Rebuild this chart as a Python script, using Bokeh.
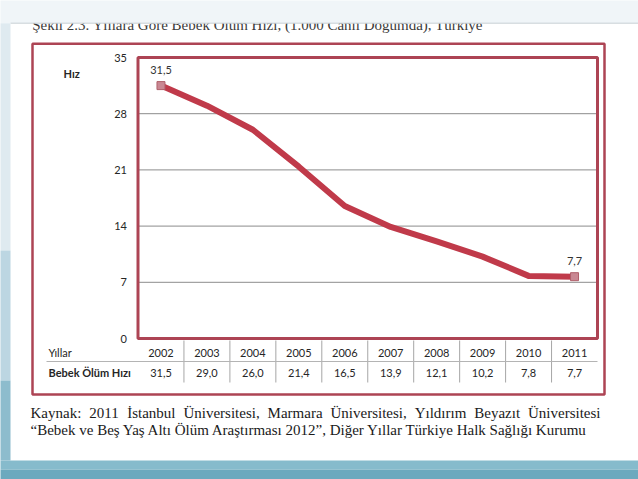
from bokeh.plotting import figure
from bokeh.models import (Range1d, FixedTicker, LinearAxis, Label, BoxAnnotation, ColumnDataSource)
from bokeh.core.properties import value
from bokeh.embed import file_html
from bokeh.resources import INLINE

# ---- data ----
years = ["2002", "2003", "2004", "2005", "2006", "2007", "2008", "2009", "2010", "2011"]
rates = [31.5, 29.0, 26.0, 21.4, 16.5, 13.9, 12.1, 10.2, 7.8, 7.7]
y_ticks = [0, 7, 14, 21, 28, 35]
rate_labels = [f"{v:.1f}".replace(".", ",") for v in rates]
title_text = "Şekil 2.3. Yıllara Göre Bebek Ölüm Hızı, (1.000 Canlı Doğumda), Türkiye"
y_label = "Hız"
row1_label = "Yıllar"
row2_label = "Bebek Ölüm Hızı"
source_lines = [
    "Kaynak: 2011 İstanbul Üniversitesi, Marmara Üniversitesi, Yıldırım Beyazıt Üniversitesi",
    "“Bebek ve Beş Yaş Altı Ölüm Araştırması 2012”, Diğer Yıllar Türkiye Halk Sağlığı Kurumu",
]

# ---- layout (pixel geometry of the plot area inside the canvas) ----
W, H = 638, 479
PL, PR, PT, PB = 137.5, 597.0, 57.0, 338.0
N = len(years)
YMAX = y_ticks[-1]
XS = (PR - PL) / N          # px per category
YS = (PB - PT) / YMAX       # px per unit
UI_FONT = "Lato"
SERIF = "Liberation Serif"
SERIF_PX = 15
RED_LINE = "#c03a4a"
FRAME_RED = "#ad4454"

# Times / Liberation Serif advance widths (1/1000 em), used to justify the first caption line
TIMES_W = {"K": 722, "a": 444, "y": 500, "n": 500, "k": 500, ":": 278, "2": 500, "0": 500,
           "1": 500, "İ": 333, "s": 389, "t": 278, "b": 500, "u": 500, "l": 278, "Ü": 722,
           "i": 278, "v": 500, "e": 444, "r": 333, ",": 250, "M": 889, "m": 778, "Y": 722,
           "ı": 278, "d": 500, "B": 667, "z": 444}


def text_w(s):
    return sum(TIMES_W.get(c, 500) for c in s) * SERIF_PX / 1000


def dx(px):
    return -0.5 + (px - PL) / XS


def dy(py):
    return (PB - py) / YS


p = figure(width=W, height=H, x_range=Range1d(dx(0), dx(W)), y_range=Range1d(dy(H), dy(0)),
           output_backend="svg", toolbar_location=None,
           x_axis_location=None, y_axis_location=None,
           min_border=0, min_border_left=0, min_border_right=0,
           min_border_top=0, min_border_bottom=0)
p.title.visible = False
p.border_fill_color = "white"
p.background_fill_color = "white"
p.outline_line_color = None
p.xgrid.visible = False
p.ygrid.visible = False

idx = list(range(N))

# ---- heading (upper part is hidden by the slide's top band) ----
p.text(x=[dx(31.7)], y=[dy(24.8)], text=[title_text], text_font=value(SERIF),
       text_font_size=f"{SERIF_PX}px", text_color="#3a3a3a", text_baseline="middle",
       text_align="left")

# ---- slide decoration ----
p.quad(left=[dx(-5)], right=[dx(W + 5)], top=[dy(-5)], bottom=[dy(22.7)],
       fill_color="#f0f5f8", line_color=None)
p.segment(x0=[dx(10)], x1=[dx(W + 5)], y0=[dy(22.7)], y1=[dy(22.7)],
          line_color="#c9cfd4", line_width=1)
p.quad(left=[dx(-5)], right=[dx(10)], top=[dy(22.7)], bottom=[dy(250)],
       fill_color="#dfeaf0", line_color=None)
p.quad(left=[dx(-5)], right=[dx(10)], top=[dy(250)], bottom=[dy(380)],
       fill_color="#bcd6e2", line_color=None)
p.quad(left=[dx(-5)], right=[dx(10)], top=[dy(380)], bottom=[dy(460)],
       fill_color="#8dbccd", line_color=None)
p.quad(left=[dx(-5)], right=[dx(W + 5)], top=[dy(460)], bottom=[dy(469)],
       fill_color="#86bbcc", line_color=None)
p.quad(left=[dx(-5)], right=[dx(W + 5)], top=[dy(469)], bottom=[dy(H + 5)],
       fill_color="#6ca9be", line_color=None)

# ---- outer chart frame ----
p.add_layout(BoxAnnotation(left=dx(32), right=dx(604), top=dy(43.3), bottom=dy(394),
                           fill_color=None, fill_alpha=0, line_color=FRAME_RED,
                           line_alpha=1, line_width=2.5, level="underlay"))

# ---- grid lines of the plot area ----
grid_vals = y_ticks[1:-1]
p.segment(x0=[-0.5] * len(grid_vals), x1=[N - 0.5] * len(grid_vals), y0=grid_vals,
          y1=grid_vals, line_color="#8c8c8c", line_width=1)

# ---- table rules ----
sep_x = [i + 0.5 for i in range(N - 1)]
p.segment(x0=sep_x, x1=sep_x, y0=[dy(340)] * len(sep_x), y1=[dy(382)] * len(sep_x),
          line_color="#a6a6a6", line_width=1)
p.segment(x0=[dx(46)], x1=[N - 0.5], y0=[dy(361)], y1=[dy(361)],
          line_color="#b4b4b4", line_width=1)

# ---- plot area border ----
p.add_layout(BoxAnnotation(left=-0.5, right=N - 0.5, bottom=0, top=YMAX,
                           fill_color=None, fill_alpha=0, line_color=FRAME_RED,
                           line_alpha=1, line_width=3, level="glyph"))

# ---- series ----
src = ColumnDataSource(dict(x=idx, rate=rates, label=rate_labels))
p.line("x", "rate", source=src, line_color=RED_LINE, line_width=6, line_join="round")
end_src = ColumnDataSource(dict(x=[idx[0], idx[-1]], rate=[rates[0], rates[-1]],
                                label=[rate_labels[0], rate_labels[-1]]))
p.scatter("x", "rate", source=end_src, marker="square", size=8,
          fill_color="#c98893", line_color="#b0606b", line_width=1)
p.text("x", "rate", "label", source=end_src, text_align="center", text_baseline="bottom",
       y_offset=-12, text_font=value(UI_FONT), text_font_size="11px", text_color="#333333")

# ---- axes ----
ax_style = dict(axis_line_color=None, major_tick_line_color=None, minor_tick_line_color=None,
                major_tick_in=0, major_tick_out=0,
                major_label_text_font=UI_FONT, major_label_text_font_size="11px",
                major_label_text_color="#262626")
yax = LinearAxis(fixed_location=-0.5, ticker=FixedTicker(ticks=y_ticks),
                 major_label_standoff=11, **ax_style)
p.add_layout(yax, "left")
xax_years = LinearAxis(fixed_location=0, ticker=FixedTicker(ticks=idx),
                       major_label_overrides={i: years[i] for i in idx},
                       major_label_standoff=10, **ax_style)
p.add_layout(xax_years, "below")
xax_vals = LinearAxis(fixed_location=0, ticker=FixedTicker(ticks=idx),
                      major_label_overrides={i: rate_labels[i] for i in idx},
                      major_label_standoff=30, **ax_style)
p.add_layout(xax_vals, "below")

# ---- texts ----
p.add_layout(Label(x=dx(63), y=dy(73), text=y_label, text_font=UI_FONT,
                   text_font_size="11px", text_font_style="bold", text_color="#262626",
                   text_baseline="middle", text_align="left"))
p.add_layout(Label(x=dx(48), y=dy(352), text=row1_label, text_font=UI_FONT,
                   text_font_size="11px", text_color="#262626",
                   text_baseline="middle", text_align="left"))
p.add_layout(Label(x=dx(48), y=dy(372), text=row2_label, text_font=UI_FONT,
                   text_font_size="11px", text_font_style="bold", text_color="#262626",
                   text_baseline="middle", text_align="left"))

# source note: first line justified between the text margins, second line left aligned
CAP_L, CAP_R = 30, 600
cap_y = [412.0, 429.9]
words = source_lines[0].split(" ")
gap = (CAP_R - CAP_L - sum(text_w(w) for w in words)) / (len(words) - 1)
xpos = CAP_L
wx = []
for w in words:
    wx.append(dx(xpos))
    xpos += text_w(w) + gap
p.text(x=wx, y=[dy(cap_y[0])] * len(words), text=words, text_font=value(SERIF),
       text_font_size=f"{SERIF_PX}px", text_color="#1a1a1a", text_baseline="middle",
       text_align="left")
p.text(x=[dx(CAP_L)], y=[dy(cap_y[1])], text=[source_lines[1]], text_font=value(SERIF),
       text_font_size=f"{SERIF_PX}px", text_color="#1a1a1a", text_baseline="middle",
       text_align="left")

open("out.html", "w").write(file_html(p, INLINE))
